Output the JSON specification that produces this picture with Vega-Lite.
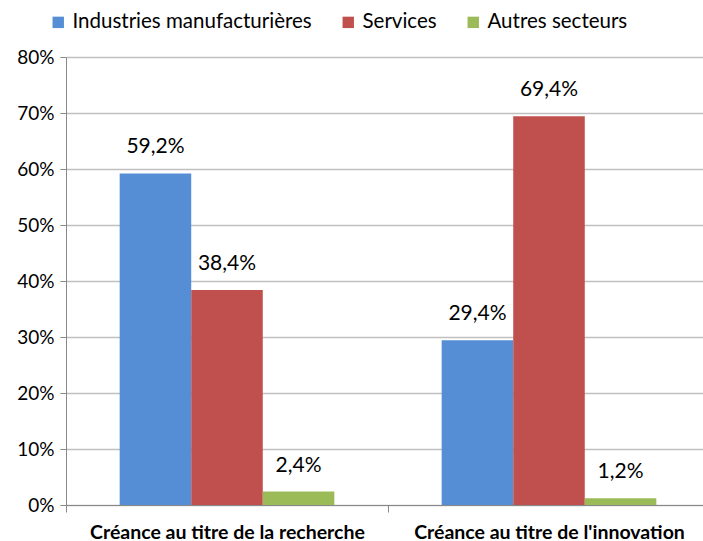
{
  "$schema": "https://vega.github.io/schema/vega-lite/v6.json",
  "width": 644,
  "height": 448,
  "autosize": {"type": "none"},
  "padding": {"left": 66, "top": 57, "right": 0, "bottom": 36},
  "config": {
    "locale": {"number": {"decimal": ",", "thousands": " ", "grouping": [3], "currency": ["", " €"]}},
    "font": "Lato",
    "view": {"stroke": null}
  },
  "data": {
    "values": [
      {"creance": "Créance au titre de la recherche", "secteur": "Industries manufacturières", "value": 0.592},
      {"creance": "Créance au titre de la recherche", "secteur": "Services", "value": 0.384},
      {"creance": "Créance au titre de la recherche", "secteur": "Autres secteurs", "value": 0.024},
      {"creance": "Créance au titre de l'innovation", "secteur": "Industries manufacturières", "value": 0.294},
      {"creance": "Créance au titre de l'innovation", "secteur": "Services", "value": 0.694},
      {"creance": "Créance au titre de l'innovation", "secteur": "Autres secteurs", "value": 0.012}
    ]
  },
  "encoding": {
    "x": {
      "field": "creance", "type": "nominal", "sort": null,
      "scale": {"paddingInner": 0, "paddingOuter": 0},
      "axis": {
        "title": null, "labelAngle": 0, "labelFont": "Lato", "labelFontSize": 19.5, "labelFontWeight": "bold",
        "labelColor": "#000", "labelPadding": 11, "tickBand": "extent", "tickSize": 7,
        "tickColor": "#888", "domainColor": "#888", "labelLimit": 400
      }
    },
    "xOffset": {
      "field": "secteur", "type": "nominal",
      "sort": ["Industries manufacturières", "Services", "Autres secteurs"],
      "scale": {"paddingInner": 0, "paddingOuter": 0.75}
    },
    "y": {
      "field": "value", "type": "quantitative",
      "scale": {"domain": [0, 0.8], "nice": false},
      "axis": {
        "title": null, "format": ".0%", "values": [0, 0.1, 0.2, 0.3, 0.4, 0.5, 0.6, 0.7, 0.8],
        "labelOverlap": false,
        "labelFontSize": 19, "labelColor": "#000", "labelPadding": 6, "tickSize": 6,
        "tickColor": "#888", "domainColor": "#888", "gridColor": "#c0c0c0", "gridWidth": 1.5
      }
    }
  },
  "layer": [
    {
      "mark": {"type": "bar"},
      "encoding": {
        "color": {
          "field": "secteur", "type": "nominal",
          "sort": ["Industries manufacturières", "Services", "Autres secteurs"],
          "scale": {"domain": ["Industries manufacturières", "Services", "Autres secteurs"], "range": ["#558ED5", "#C0504D", "#9BBB59"]},
          "legend": {
            "title": null, "orient": "none", "legendX": -18, "legendY": -45, "direction": "horizontal",
            "symbolType": "square", "symbolSize": 130, "symbolStrokeWidth": 0, "labelFontSize": 20.5, "labelColor": "#000",
            "columnPadding": 26, "labelOffset": 4, "labelLimit": 400
          }
        }
      }
    },
    {
      "mark": {"type": "text", "baseline": "bottom", "dy": -16, "fontSize": 21, "color": "#000"},
      "encoding": {
        "text": {"field": "value", "type": "quantitative", "format": ".1%"}
      }
    }
  ]
}
